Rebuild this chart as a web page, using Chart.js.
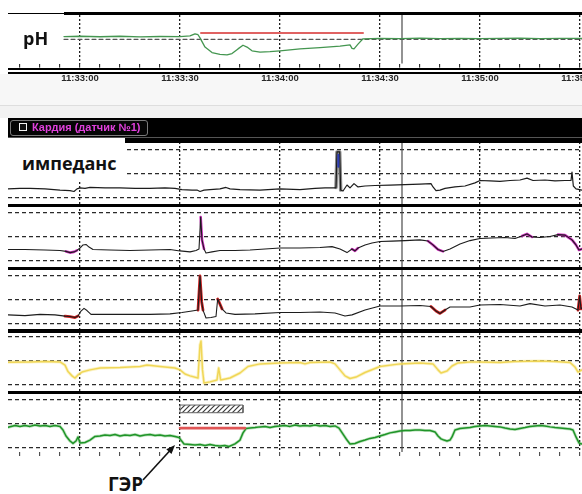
<!DOCTYPE html>
<html><head><meta charset="utf-8">
<script src="https://cdn.jsdelivr.net/npm/chart.js@4.4.1/dist/chart.umd.min.js"></script>
<style>
html,body{margin:0;padding:0;background:#fff;overflow:hidden;}
#wrap{position:relative;width:582px;height:494px;overflow:hidden;background:#fff;font-family:"Liberation Sans",Arial,sans-serif;}
#wrap div,#wrap canvas,#wrap svg{position:absolute;}
.blk{background:#000;}
.big{font-family:"Open Sans",sans-serif;font-weight:700;font-size:18px;line-height:18px;color:#111;white-space:nowrap;}
</style></head><body><div id="wrap">
<!-- light band under time axis -->
<div style="left:0;top:74px;width:582px;height:31px;background:#f7f7f7"></div>
<div style="left:0;top:105px;width:582px;height:1px;background:#dedede"></div>
<div style="left:0;top:106px;width:582px;height:12px;background:#f2f2f2"></div>

<canvas id="cph" width="640" height="74" style="left:8px;top:15px"></canvas>
<canvas id="c1" width="574" height="64" style="left:8px;top:142px"></canvas>
<canvas id="c2" width="574" height="64" style="left:8px;top:205px"></canvas>
<canvas id="c3" width="574" height="64" style="left:8px;top:268px"></canvas>
<canvas id="c4" width="574" height="64" style="left:8px;top:329px"></canvas>
<canvas id="c5" width="574" height="64" style="left:8px;top:392px"></canvas>

<!-- frame lines -->
<div class="blk" style="left:8px;top:12.5px;width:56px;height:1.5px"></div>
<div class="blk" style="left:64px;top:12px;width:518px;height:3px"></div>
<div class="blk" style="left:8px;top:67.5px;width:574px;height:2.5px"></div>
<div class="blk" style="left:8px;top:71.5px;width:574px;height:2px"></div>
<div class="blk" style="left:8px;top:118px;width:574px;height:19px"></div>
<div style="left:8px;top:137px;width:574px;height:1px;background:#555"></div>
<div class="blk" style="left:125px;top:138px;width:457px;height:4.5px"></div>
<div class="blk" style="left:8px;top:204px;width:574px;height:3px"></div>
<div class="blk" style="left:8px;top:267px;width:574px;height:3px"></div>
<div class="blk" style="left:8px;top:329px;width:574px;height:3.5px"></div>
<div class="blk" style="left:8px;top:391px;width:574px;height:3px"></div>

<!-- channel button -->
<div style="left:10px;top:119.5px;width:136px;height:14px;border:1px solid #7a7a7a;border-radius:3px;background:#050505"></div>
<div style="left:19px;top:123px;width:6px;height:6px;border:1.5px solid #f4f4f4;background:#111"></div>
<div style="left:32px;top:121px;font-size:11px;line-height:12px;font-weight:bold;color:#e040dc;white-space:nowrap">Кардия (датчик №1)</div>

<!-- labels -->
<div class="big" style="left:23px;top:29px;">pH</div>
<div style="left:8px;top:138px;width:117px;height:44px;background:#fff"></div>
<div class="big" style="left:22px;top:154px;">импеданс</div>
<div class="big" style="left:108px;top:475px;font-size:19px;line-height:19px;">ГЭР</div>
<svg width="582" height="494" style="left:0;top:0;pointer-events:none">
  <line x1="143" y1="480" x2="170" y2="450.5" stroke="#111" stroke-width="1.6"/>
  <polygon points="175,445 171.5,454 166.3,449.3" fill="#111"/>
</svg>
</div>
<script>
// ---------- time axis ----------
const X_MIN = -21.6, X_MAX = 150.6, X_MAX_PH = 170.4;      // seconds from 11:33:00
const timeTickSeconds = [0, 30, 60, 90, 120, 150];
const timeTickLabels = ['11:33:00', '11:33:30', '11:34:00', '11:34:30', '11:35:00', '11:35:30'];
const minorTicks = [-18,-12,-6,0,6,12,18,24,30,36,42,48,54,60,66,72,78,84,90,96,102,108,114,120,126,132,138,144,150,156,162,168];
const cursorTime = 96.6;

// ---------- pH ----------
const phThreshold = 4;
const phThresholdStart = -4.8;
const phEpisode = [36.3, 84.9];
const phEpisodeLevel = 5.03;
const phTrace = [[-4.8,4.45],[0,4.5],[6,4.42],[12,4.5],[18,4.4],[24,4.46],[30,4.44],[33,4.55],[34.5,4.9],[35.4,4.75],[36,4.23],[37.5,2.72],[39.6,1.81],[42,1.51],[44.1,1.43],[45.6,1.66],[47.4,2.42],[48.9,3.02],[50.1,2.72],[51.6,2.11],[54,1.89],[57,1.96],[60,2.11],[66,2.42],[72,2.64],[78,2.87],[81,3.09],[81.6,2.5],[82.2,2.42],[83.4,3.2],[84.9,4.08],[90,4.15],[96,4.12],[102,4.18],[108,4.1],[114,4.15],[120,4.12],[126,4.15],[132,4.18],[138,4.12],[144,4.16],[150.6,4.14],[170.4,4.14]];

// ---------- impedance channels (relative units, grid levels 1..3) ----------
const channelLevels = [1, 2, 3];
const imp1 = [[-21.6,1.38],[-18,1.4],[-15,1.4],[-10.5,1.38],[-6,1.33],[-3,1.31],[-1.8,1.27],[-0.9,1.38],[0,1.42],[1.5,1.4],[3,1.44],[7.5,1.42],[12,1.42],[16.5,1.4],[21,1.4],[25.5,1.42],[28.5,1.4],[30.6,1.35],[33.6,1.33],[35.1,1.33],[36,1.27],[37.2,1.33],[39,1.35],[42,1.38],[43.8,1.44],[45,1.38],[48,1.35],[54,1.33],[60,1.38],[66,1.35],[70.5,1.4],[73.5,1.42],[76.5,1.42],[76.8,1.44],[77.1,2.92],[77.9,2.92],[78.2,1.33],[78.9,1.29],[80.1,1.54],[81,1.42],[82.2,1.6],[83.4,1.46],[85.5,1.5],[88.5,1.52],[93,1.54],[97.5,1.56],[102,1.58],[105.3,1.6],[105.9,1.46],[106.8,1.31],[108,1.33],[109.5,1.4],[112.5,1.46],[115.5,1.5],[118.5,1.63],[120,1.73],[123,1.71],[126,1.69],[129,1.73],[132,1.75],[134.1,1.83],[135.9,1.73],[139.5,1.75],[142.5,1.71],[145.5,1.73],[147.3,1.73],[147.6,2.08],[148,1.5],[148.8,1.38],[150.6,1.33]];
const imp1SpikeRange = [76.7, 78.3];
const imp1SpikeCore = [[77.5,2.8],[77.5,2.3]];
const imp2 = [[-21.6,1.48],[-16.5,1.48],[-10.5,1.46],[-6,1.44],[-4.2,1.4],[-3,1.35],[-1.8,1.38],[-0.9,1.44],[0,1.54],[0.9,1.67],[1.8,1.69],[2.7,1.58],[3.9,1.48],[9,1.46],[15,1.44],[21,1.46],[27,1.48],[30,1.42],[33,1.38],[34.8,1.44],[35.7,1.5],[36.2,2.83],[36.6,1.88],[37.2,1.5],[37.8,1.33],[39.6,1.38],[42,1.44],[46.5,1.44],[51,1.46],[55.5,1.5],[60,1.54],[66,1.54],[72,1.56],[75.6,1.6],[78,1.5],[80.1,1.35],[81.6,1.5],[82.5,1.42],[83.4,1.54],[85.5,1.67],[87.6,1.75],[90,1.81],[93.6,1.83],[97.5,1.85],[102,1.88],[104.4,1.83],[105.9,1.67],[107.4,1.48],[108.9,1.4],[111,1.5],[114,1.71],[117,1.85],[120,1.94],[123.6,1.96],[127.5,1.98],[130.5,1.94],[132.6,2.04],[134.1,2.13],[135.6,2.0],[138,1.98],[141,2.02],[143.4,2.1],[145.5,2.08],[147.6,1.88],[148.8,1.67],[149.7,1.46],[150.6,1.5]];
const imp2Marked = [[-5,-0.5],[35.9,37.5],[80.5,84],[103.5,109.5],[131.5,136],[142,151]];
const imp3 = [[-21.6,1.38],[-16.5,1.35],[-12,1.4],[-7.5,1.38],[-4.5,1.33],[-3,1.31],[-1.5,1.27],[-0.6,1.33],[0.3,1.54],[1.2,1.65],[2.1,1.56],[3.3,1.4],[7.5,1.4],[13.5,1.4],[21,1.4],[27,1.42],[30.6,1.48],[33.6,1.54],[35.4,1.58],[36,3.0],[36.5,1.92],[36.9,1.58],[37.8,1.25],[39.3,1.27],[40.8,1.31],[41.3,2.04],[41.7,1.92],[42.6,1.63],[43.8,1.46],[46.5,1.4],[52.5,1.42],[60,1.48],[66,1.48],[72,1.5],[76.5,1.46],[79.5,1.33],[81.6,1.38],[85.5,1.58],[90,1.75],[96,1.75],[102,1.77],[105.3,1.73],[106.8,1.54],[108,1.44],[109.5,1.58],[111,1.71],[117,1.71],[120,1.79],[126,1.81],[132,1.75],[135,1.85],[139.5,1.75],[144,1.79],[147.6,1.71],[149.4,1.58],[149.9,2.17],[150.3,1.63],[150.6,1.67]];
const imp3Marked = [[-4.6,-0.3],[35.3,37.6],[41.2,43],[105,110],[149,151]];
const imp4 = [[-21.6,1.95],[-15,1.96],[-10.5,1.98],[-6,1.96],[-4.5,1.83],[-3.6,1.56],[-2.4,1.38],[-1.5,1.29],[-0.6,1.42],[0.6,1.54],[3,1.63],[6,1.71],[12,1.73],[18,1.77],[20.1,1.83],[24,1.77],[28.5,1.71],[30,1.63],[31.5,1.46],[33,1.38],[35.4,1.29],[36,2.67],[36.3,2.83],[36.75,1.63],[37.2,1.08],[39,1.13],[41.1,1.21],[41.6,1.71],[42.2,1.21],[45,1.29],[48,1.5],[50.4,1.77],[54,1.88],[60,1.92],[66,1.94],[67.5,1.88],[69,1.94],[75,1.96],[76.5,1.88],[78,1.63],[79.5,1.38],[81,1.27],[82.8,1.33],[85.5,1.52],[90,1.77],[96,1.88],[102,1.92],[105.9,1.88],[107.4,1.63],[108.3,1.5],[110.1,1.58],[111.6,1.79],[113.4,1.92],[117,1.96],[120,1.96],[126,1.94],[130.5,1.98],[138,2.0],[142.5,1.98],[147,1.94],[148.5,1.75],[149.4,1.54],[150.6,1.63]];
const imp5 = [[-21.6,1.86],[-19.5,1.94],[-18,1.9],[-16.5,1.94],[-15,1.9],[-13.5,1.96],[-12,1.92],[-10.5,1.94],[-9,1.9],[-7.5,1.94],[-6,1.9],[-5.1,1.75],[-4.2,1.5],[-3,1.29],[-2.1,1.19],[-1.2,1.29],[-0.6,1.46],[0,1.21],[1.5,1.23],[3,1.33],[4.5,1.48],[6,1.5],[7.5,1.54],[9,1.52],[10.5,1.56],[12,1.5],[13.5,1.54],[15,1.52],[16.5,1.56],[18,1.5],[19.5,1.54],[21,1.56],[22.5,1.52],[24,1.54],[25.5,1.5],[27,1.52],[28.5,1.48],[29.7,1.44],[30.3,1.33],[31.2,1.17],[33,1.15],[34.5,1.13],[36,1.15],[37.5,1.1],[39,1.15],[40.5,1.1],[42,1.08],[43.5,1.1],[44.7,1.06],[46.5,1.17],[48,1.33],[48.9,1.63],[49.8,1.81],[51,1.83],[52.5,1.85],[54,1.88],[55.5,1.9],[57,1.85],[58.5,1.9],[60,1.92],[61.5,1.94],[63,1.9],[64.5,1.96],[66,1.92],[67.5,1.94],[69,1.92],[70.5,1.96],[72,1.92],[73.5,1.94],[75,1.9],[76.5,1.92],[77.7,1.83],[78.9,1.58],[80.1,1.33],[81,1.17],[82.5,1.19],[84,1.27],[85.5,1.33],[87,1.4],[88.5,1.44],[90,1.5],[91.5,1.56],[93,1.63],[94.5,1.67],[96,1.71],[97.5,1.73],[99,1.73],[100.5,1.75],[102,1.75],[103.5,1.73],[105,1.73],[106.5,1.67],[107.4,1.5],[108.3,1.38],[109.2,1.33],[110.1,1.29],[111,1.33],[111.6,1.46],[112.5,1.75],[114,1.81],[115.5,1.83],[117,1.85],[118.5,1.9],[120,1.92],[121.5,1.94],[123,1.92],[124.5,1.9],[126,1.88],[127.5,1.83],[129,1.79],[130.5,1.77],[132,1.81],[133.5,1.85],[135,1.9],[136.5,1.92],[138,1.94],[139.5,1.92],[141,1.88],[142.5,1.85],[144,1.83],[145.5,1.81],[147,1.79],[147.9,1.75],[148.8,1.46],[149.7,1.21],[150.6,1.17]];
// reflux episode markers in the bottom channel
const gerHatch = [30, 48.9];
const gerHatchLevels = [2.47, 2.79];
const gerMark = [30, 49.5];
const gerMarkLevel = 1.83;

// ---------- helpers ----------
const toXY = a => a.map(p => ({x: p[0], y: p[1]}));
const inRanges = (a, ranges) => a.map(p => ({x: p[0], y: ranges.some(r => p[0] >= r[0] && p[0] <= r[1]) ? p[1] : null}));
const cursorDs = () => ({data: [{x: cursorTime, y: -100}, {x: cursorTime, y: 100}], borderColor: '#4a4a4a', borderWidth: 1.2, order: 9});
function hatchPattern() {
  const c = document.createElement('canvas'); c.width = 5; c.height = 5;
  const g = c.getContext('2d');
  g.fillStyle = '#fff'; g.fillRect(0, 0, 5, 5);
  g.strokeStyle = '#3a3a3a'; g.lineWidth = 1.2; g.beginPath();
  g.moveTo(0, 5); g.lineTo(5, 0); g.moveTo(-1, 1); g.lineTo(1, -1); g.moveTo(4, 6); g.lineTo(6, 4);
  g.stroke();
  return g.createPattern(c, 'repeat');
}
const baseOpts = {
  responsive: false, animation: false, events: [],
  layout: {padding: 0},
  elements: {point: {radius: 0}, line: {tension: 0, fill: false, borderJoinStyle: 'round', borderCapStyle: 'round'}},
  plugins: {legend: {display: false}, tooltip: {enabled: false}}
};
const gridColor = c => (c.tick && c.tick.value % 30 === 0) ? '#1e1e1e' : 'rgba(0,0,0,0)';

// ---------- pH chart ----------
new Chart(document.getElementById('cph'), {
  type: 'line',
  data: {datasets: [
    {data: [{x: phEpisode[0], y: phEpisodeLevel}, {x: phEpisode[1], y: phEpisodeLevel}], borderColor: '#e06262', borderWidth: 2, order: 0},
    {data: toXY(phTrace), borderColor: '#449650', borderWidth: 1.3, order: 1},
    {data: [{x: phThresholdStart, y: phThreshold}, {x: X_MAX_PH, y: phThreshold}], borderColor: '#555', borderWidth: 1.2, borderDash: [4, 3], order: 3},
    cursorDs()
  ]},
  options: Object.assign({}, baseOpts, {
    scales: {
      x: {type: 'linear', min: X_MIN, max: X_MAX_PH,
        afterBuildTicks: s => { s.ticks = minorTicks.map(v => ({value: v})); },
        grid: {color: gridColor, lineWidth: 1.3, drawTicks: true, tickLength: 4, tickColor: '#111', tickWidth: 1, tickBorderDash: []},
        border: {display: false, dash: [2, 2]},
        ticks: {display: true, autoSkip: false, maxRotation: 0, minRotation: 0, padding: 5, color: '#2a2a2a',
          font: {family: 'Liberation Sans', size: 9.5, weight: 'bold'},
          callback: v => { const i = timeTickSeconds.indexOf(v); return i >= 0 ? timeTickLabels[i] : ''; }}},
      y: {display: false, min: 0, max: 8}
    }
  })
});

// ---------- channel charts ----------
function channelChart(id, datasets, withTicks, yMin) {
  return new Chart(document.getElementById(id), {
    type: 'line',
    data: {datasets: datasets.concat([cursorDs()])},
    options: Object.assign({}, baseOpts, {
      scales: {
        x: {type: 'linear', min: X_MIN, max: X_MAX,
          afterBuildTicks: s => { s.ticks = (withTicks ? minorTicks : timeTickSeconds).filter(v => v <= X_MAX).map(v => ({value: v})); },
          grid: {color: gridColor, lineWidth: 1.3, drawTicks: withTicks, tickLength: 4, tickColor: '#333', tickWidth: 1, tickBorderDash: []},
          border: {display: false, dash: [2, 2]},
          ticks: {display: false}},
        y: {min: yMin, max: 3.3333,
          afterBuildTicks: s => { s.ticks = channelLevels.map(v => ({value: v})); },
          grid: {color: '#2a2a2a', lineWidth: 1.2, drawTicks: false},
          border: {display: false, dash: [4, 3]},
          ticks: {display: false}}
      }
    })
  });
}

channelChart('c1', [
  {data: toXY(imp1SpikeCore), borderColor: '#2b3bb5', borderWidth: 2, order: 0},
  {data: toXY(imp1), borderColor: '#1c1c1c', borderWidth: 1.2, order: 1},
  {data: inRanges(imp1, [imp1SpikeRange]), borderColor: '#8a8a8a', borderWidth: 3.5, order: 2}
], false, 0.6667);

channelChart('c2', [
  {data: toXY(imp2), borderColor: '#1c1c1c', borderWidth: 1.1, order: 0},
  {data: inRanges(imp2, imp2Marked), borderColor: '#d22ec2', borderWidth: 2.6, order: 1}
], false, 0.6667);

channelChart('c3', [
  {data: toXY(imp3), borderColor: '#1c1c1c', borderWidth: 1.1, order: 0},
  {data: inRanges(imp3, imp3Marked), borderColor: '#d01f1f', borderWidth: 2.8, order: 1}
], false, 0.6667);

channelChart('c4', [
  {data: toXY(imp4), borderColor: 'rgba(240,212,75,0.9)', borderWidth: 1.5, order: 0},
  {data: toXY(imp4), borderColor: 'rgba(248,232,140,0.5)', borderWidth: 3.2, order: 1}
], false, 0.6667);

channelChart('c5', [
  {data: [{x: gerMark[0], y: gerMarkLevel}, {x: gerMark[1], y: gerMarkLevel}], borderColor: '#e05555', borderWidth: 2.6, order: 0},
  {data: toXY(imp5), borderColor: '#1f9428', borderWidth: 1.5, order: 1},
  {data: toXY(imp5), borderColor: 'rgba(60,170,60,0.35)', borderWidth: 3, order: 2},
  {data: [{x: gerHatch[0], y: gerHatchLevels[1]}, {x: gerHatch[1], y: gerHatchLevels[1]}], borderWidth: 0, borderColor: 'rgba(0,0,0,0)', fill: '+1', backgroundColor: hatchPattern(), order: 4},
  {data: [{x: gerHatch[0], y: gerHatchLevels[0]}, {x: gerHatch[1], y: gerHatchLevels[0]}], borderWidth: 0, borderColor: 'rgba(0,0,0,0)', order: 5},
  {data: [{x: gerHatch[0], y: gerHatchLevels[0]}, {x: gerHatch[0], y: gerHatchLevels[1]}, {x: gerHatch[1], y: gerHatchLevels[1]}, {x: gerHatch[1], y: gerHatchLevels[0]}, {x: gerHatch[0], y: gerHatchLevels[0]}], borderColor: '#666', borderWidth: 1, order: 3}
], true, 0.8333);
</script>
</body></html>
